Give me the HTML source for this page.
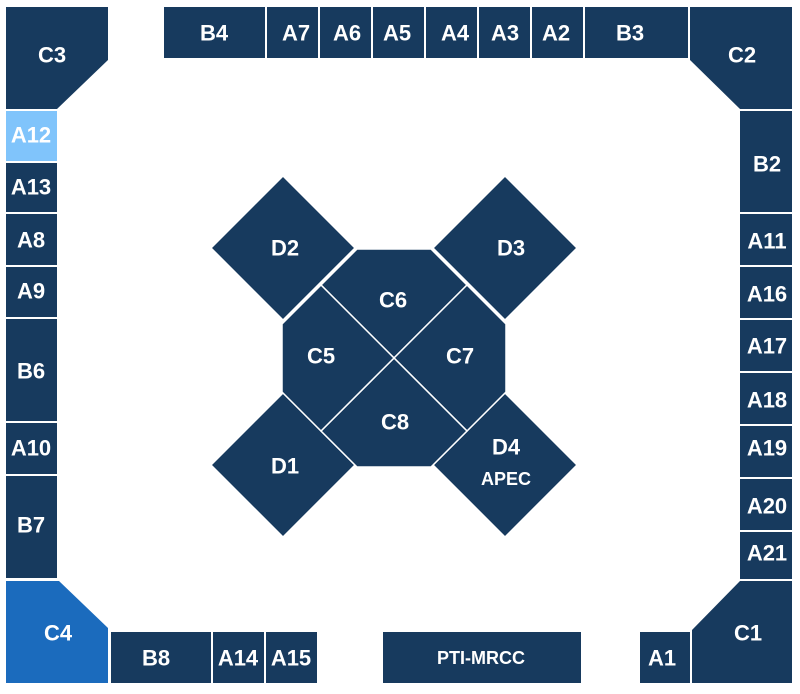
<!DOCTYPE html>
<html><head><meta charset="utf-8"><style>
html,body{margin:0;padding:0;background:#fff;}
svg{display:block}
text{font-family:"Liberation Sans",sans-serif;font-weight:bold;fill:#fff;text-anchor:middle;dominant-baseline:central}
</style></head><body>
<svg width="800" height="694" viewBox="0 0 800 694" xmlns="http://www.w3.org/2000/svg">
<g fill="#173a5e" font-size="22">
<!-- corners -->
<polygon points="6,7 108,7 108,60 57,109 6,109"/>
<polygon points="690,7 792,7 792,109 740,109 690,60"/>
<polygon points="692,630 740,581 792,581 792,683 692,683"/>
<polygon fill="#1b6bbd" points="6,581 59,581 108,628 108,683 6,683"/>
<!-- top row -->
<rect x="164" y="7" width="101" height="51"/>
<rect x="267" y="7" width="51" height="51"/>
<rect x="320" y="7" width="51" height="51"/>
<rect x="373" y="7" width="51" height="51"/>
<rect x="426" y="7" width="51" height="51"/>
<rect x="479" y="7" width="51" height="51"/>
<rect x="532" y="7" width="51" height="51"/>
<rect x="585" y="7" width="103" height="51"/>
<!-- left column -->
<rect fill="#80c4fb" x="6" y="111" width="51" height="50"/>
<rect x="6" y="163" width="51" height="49"/>
<rect x="6" y="214" width="51" height="51"/>
<rect x="6" y="267" width="51" height="50"/>
<rect x="6" y="319" width="51" height="102"/>
<rect x="6" y="423" width="51" height="51"/>
<rect x="6" y="476" width="51" height="102"/>
<!-- right column -->
<rect x="740" y="111" width="52" height="101"/>
<rect x="740" y="214" width="52" height="51"/>
<rect x="740" y="267" width="52" height="51"/>
<rect x="740" y="320" width="52" height="51"/>
<rect x="740" y="373" width="52" height="51"/>
<rect x="740" y="426" width="52" height="51"/>
<rect x="740" y="479" width="52" height="51"/>
<rect x="740" y="532" width="52" height="47"/>
<!-- bottom row -->
<rect x="111" y="632" width="100" height="51"/>
<rect x="213" y="632" width="51" height="51"/>
<rect x="266" y="632" width="51" height="51"/>
<rect x="383" y="632" width="198" height="51"/>
<rect x="640" y="632" width="50" height="51"/>
<!-- center -->
<g stroke="#fff" stroke-width="1.5">
<polygon points="283,176 355,248 283,320 211,248"/>
<polygon points="505,176 577,248 505,320 433,248"/>
<polygon points="283,393 355,465 283,537 211,465"/>
<polygon points="505,393 577,465 505,537 433,465"/>
<polygon points="357,249 431,249 467,285 394,358 321,285"/>
<polygon points="467,285 506,324 506,392 467,431 394,358"/>
<polygon points="394,358 467,431 431,467 357,467 321,431"/>
<polygon points="321,285 394,358 321,431 282,392 282,324"/>
</g>
</g>
<g font-size="22">
<text x="52" y="55">C3</text>
<text x="742" y="55">C2</text>
<text x="748" y="633">C1</text>
<text x="58" y="633">C4</text>
<text x="214" y="33">B4</text>
<text x="296" y="33">A7</text>
<text x="347" y="33">A6</text>
<text x="397" y="33">A5</text>
<text x="455" y="33">A4</text>
<text x="505" y="33">A3</text>
<text x="556" y="33">A2</text>
<text x="630" y="33">B3</text>
<text x="31" y="135">A12</text>
<text x="31" y="187">A13</text>
<text x="31" y="240">A8</text>
<text x="31" y="291">A9</text>
<text x="31" y="371">B6</text>
<text x="31" y="448">A10</text>
<text x="31" y="525">B7</text>
<text x="767" y="164">B2</text>
<text x="767" y="241">A11</text>
<text x="767" y="294">A16</text>
<text x="767" y="346">A17</text>
<text x="767" y="400">A18</text>
<text x="767" y="448">A19</text>
<text x="767" y="506">A20</text>
<text x="767" y="553">A21</text>
<text x="156" y="658">B8</text>
<text x="238" y="658">A14</text>
<text x="291" y="658">A15</text>
<text x="662" y="658">A1</text>
<text x="285" y="248">D2</text>
<text x="511" y="248">D3</text>
<text x="285" y="466">D1</text>
<text x="506" y="447">D4</text>
<text x="393" y="300">C6</text>
<text x="321" y="356">C5</text>
<text x="460" y="356">C7</text>
<text x="395" y="422">C8</text>
</g>
<text x="506" y="479" font-size="18">APEC</text>
<text x="481" y="658" font-size="18">PTI-MRCC</text>
</svg>
</body></html>
